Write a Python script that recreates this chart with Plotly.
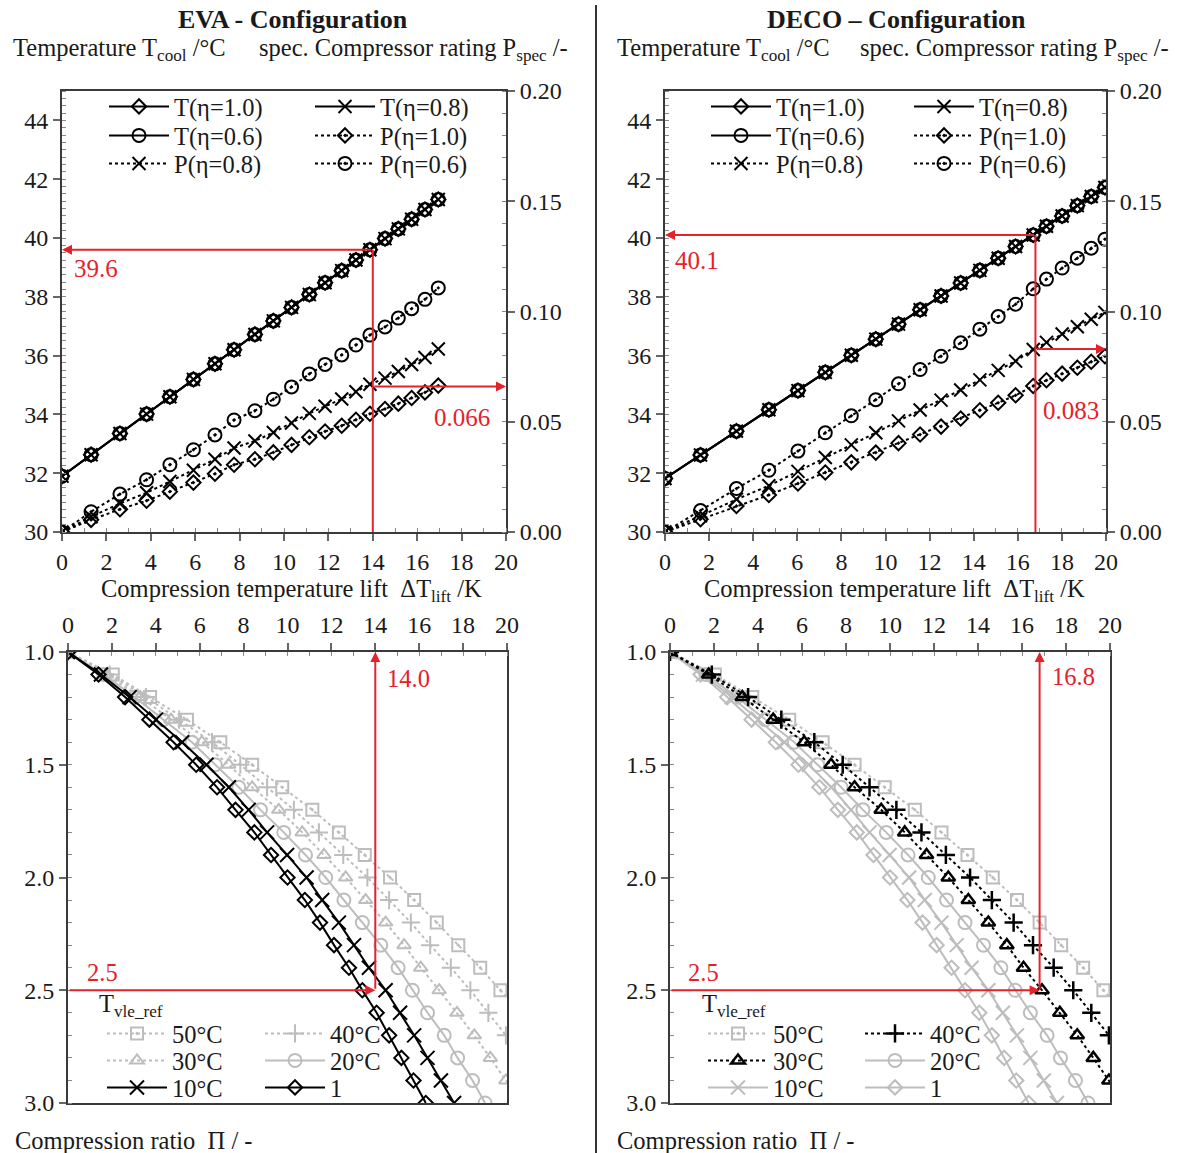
import plotly.graph_objects as go

W, H = 1177, 1153
def px(x): return x / W
def py(y): return 1 - y / H

FONT = "Liberation Serif"
RED = "#e3222b"
GRAY = "#bdbdbd"
BLACK = "#000000"
AXC = "#3a3a3a"
TXT = "#1a1a1a"

# ---------------- top charts: T_cool and P_spec vs temperature lift ----------------
eva_dT = [0, 1.31, 2.61, 3.81, 4.86, 5.92, 6.89, 7.75, 8.69, 9.52, 10.34, 11.14, 11.85, 12.60,
          13.24, 13.87, 14.55, 15.15, 15.75, 16.35, 16.95]
eva_T = [31.90, 32.63, 33.35, 34.01, 34.60, 35.19, 35.72, 36.20, 36.72, 37.18, 37.64, 38.08,
         38.48, 38.89, 39.25, 39.60, 39.98, 40.31, 40.64, 40.97, 41.31]
eva_P10 = [0, 0.0055, 0.0103, 0.0142, 0.0183, 0.0224, 0.0264, 0.0305, 0.0330, 0.0361, 0.0395,
           0.0430, 0.0456, 0.0482, 0.0509, 0.0536, 0.0558, 0.0582, 0.0608, 0.0633, 0.0664]
eva_P08 = [0, 0.0069, 0.0129, 0.0178, 0.0229, 0.0280, 0.0330, 0.0381, 0.0413, 0.0451, 0.0494,
           0.0538, 0.0570, 0.0603, 0.0636, 0.0670, 0.0698, 0.0728, 0.0760, 0.0791, 0.0830]
eva_P06 = [0, 0.0092, 0.0172, 0.0237, 0.0305, 0.0373, 0.0440, 0.0508, 0.0550, 0.0602, 0.0658,
           0.0717, 0.0760, 0.0803, 0.0848, 0.0893, 0.0930, 0.0970, 0.1013, 0.1055, 0.1107]

deco_dT = [0, 1.61, 3.24, 4.71, 6.03, 7.27, 8.45, 9.56, 10.59, 11.57, 12.52, 13.41, 14.28, 15.11,
           15.90, 16.70, 17.30, 18.01, 18.70, 19.33, 19.95]
deco_T = [31.82, 32.62, 33.43, 34.16, 34.81, 35.43, 36.01, 36.56, 37.07, 37.56, 38.03, 38.47,
          38.90, 39.31, 39.71, 40.10, 40.40, 40.75, 41.10, 41.41, 41.72]
deco_P10 = [0, 0.0058, 0.0118, 0.0168, 0.0220, 0.0270, 0.0316, 0.0360, 0.0403, 0.0442, 0.0478,
            0.0515, 0.0552, 0.0586, 0.0620, 0.0662, 0.0688, 0.0718, 0.0745, 0.0772, 0.0797]
deco_P08 = [0, 0.0073, 0.0148, 0.0210, 0.0275, 0.0338, 0.0395, 0.0450, 0.0504, 0.0553, 0.0598,
            0.0644, 0.0690, 0.0733, 0.0775, 0.0828, 0.0860, 0.0898, 0.0931, 0.0965, 0.0996]
deco_P06 = [0, 0.0097, 0.0197, 0.0280, 0.0367, 0.0450, 0.0527, 0.0600, 0.0672, 0.0737, 0.0797,
            0.0858, 0.0920, 0.0977, 0.1033, 0.1103, 0.1147, 0.1197, 0.1242, 0.1287, 0.1328]

# ---------------- bottom charts: compression ratio vs temperature lift ----------------
ratio = [1.0, 1.1, 1.2, 1.3, 1.4, 1.5, 1.6, 1.7, 1.8, 1.9, 2.0,
         2.1, 2.2, 2.3, 2.4, 2.5, 2.6, 2.7, 2.8, 2.9, 3.0]
lift_50 = [0, 2.04, 3.74, 5.42, 6.94, 8.39, 9.76, 11.13, 12.34, 13.52, 14.67,
           15.77, 16.80, 17.78, 18.78, 19.70, 20.60]
lift_40 = [0, 1.90, 3.55, 5.06, 6.56, 7.85, 9.07, 10.29, 11.43, 12.54, 13.64,
           14.63, 15.62, 16.50, 17.44, 18.33, 19.15, 19.95, 20.72]
lift_30 = [0, 1.76, 3.29, 4.69, 6.10, 7.32, 8.39, 9.60, 10.67, 11.66, 12.65,
           13.56, 14.47, 15.31, 16.07, 16.91, 17.72, 18.51, 19.24, 19.95, 20.65]
lift_20 = [0, 1.63, 3.04, 4.33, 5.65, 6.71, 7.78, 8.77, 9.83, 10.82, 11.74,
           12.57, 13.41, 14.25, 15.04, 15.69, 16.38, 17.14, 17.75, 18.43, 19.00]
lift_10 = [0, 1.50, 2.81, 4.01, 5.20, 6.31, 7.33, 8.23, 9.07, 9.98, 10.87,
           11.58, 12.34, 13.03, 13.71, 14.47, 15.13, 15.77, 16.38, 16.99, 17.59]
lift_1 = [0, 1.39, 2.60, 3.71, 4.81, 5.84, 6.79, 7.63, 8.49, 9.25, 10.00,
          10.79, 11.48, 12.12, 12.80, 13.41, 14.06, 14.63, 15.19, 15.74, 16.30]
curve_names = ["50°C", "40°C", "30°C", "20°C", "10°C", "1"]

# highlighted operating points
eva_lift, eva_Tcool, eva_Pspec, eva_ratio = 14.0, 39.6, 0.066, 2.5
deco_lift, deco_Tcool, deco_Pspec, deco_ratio = 16.8, 40.1, 0.083, 2.5

fig = go.Figure()

TL_X = [px(62), px(506)]
TR_X = [px(665), px(1106)]
TOP_Y = [py(532), py(91)]
BL_X = [px(68), px(507)]
BR_X = [px(670), px(1110)]
BOT_Y = [py(1103), py(652)]

legfont = dict(family=FONT, size=24.5, color=TXT)
legends = {}
_leg_count = [0]


def new_legend(x_line, y_center):
    """One legend per entry so the grid of entries can be placed exactly."""
    _leg_count[0] += 1
    n = _leg_count[0]
    key = "legend" if n == 1 else f"legend{n}"
    legends[key] = dict(x=px(x_line - 3), y=py(y_center - 24), xanchor="left", yanchor="top",
                        xref="paper", yref="paper", bgcolor="rgba(0,0,0,0)", borderwidth=0,
                        font=legfont, itemwidth=60, tracegroupgap=0, orientation="v")
    return key


def top_traces(xa, ya, ya2, dT, T, P10, P08, P06, col1, col2):
    rows = [108, 137, 165]
    specs = [
        ("T(η=1.0)", T, ya, "diamond-open", "solid", col1, rows[0], 11),
        ("T(η=0.8)", T, ya, "x-thin-open", "solid", col2, rows[0], 13),
        ("T(η=0.6)", T, ya, "circle-open", "solid", col1, rows[1], 13),
        ("P(η=1.0)", P10, ya2, "diamond-open-dot", "dot", col2, rows[1], 11),
        ("P(η=0.8)", P08, ya2, "x-thin-open", "dot", col1, rows[2], 13),
        ("P(η=0.6)", P06, ya2, "circle-open-dot", "dot", col2, rows[2], 13),
    ]
    for name, yv, yax, sym, dash, lx, ly, size in specs:
        fig.add_trace(go.Scatter(
            x=dT, y=yv, xaxis=xa, yaxis=yax, name=name, mode="lines+markers",
            line=dict(color=BLACK, width=2, dash=dash),
            marker=dict(symbol=sym, size=size, color=BLACK, line=dict(color=BLACK, width=2)),
            legend=new_legend(lx, ly), hoverinfo="skip"))


top_traces("x", "y", "y2", eva_dT, eva_T, eva_P10, eva_P08, eva_P06, 107, 313)
top_traces("x2", "y3", "y4", deco_dT, deco_T, deco_P10, deco_P08, deco_P06, 709, 912)


def bottom_traces(xa, ya, styles, col1, col2):
    lifts = [lift_50, lift_40, lift_30, lift_20, lift_10, lift_1]
    syms = ["square-open-dot", "cross-thin-open", "triangle-up-open", "circle-open", "x-thin-open", "diamond-open"]
    dashes = ["dot", "dot", "dot", "solid", "solid", "solid"]
    cols = [col1, col2, col1, col2, col1, col2]
    rows = [1035, 1035, 1062, 1062, 1089, 1089]
    sizes = [12, 13, 12, 13, 14, 11]
    order = sorted(range(6), key=lambda i: styles[i][1])
    for i in order:
        color, _ = styles[i]
        n = len(lifts[i])
        mw = 2.5 if (color == BLACK and syms[i] in ("triangle-up-open", "cross-thin-open")) else 2
        fig.add_trace(go.Scatter(
            x=lifts[i], y=ratio[:n], xaxis=xa, yaxis=ya, name=curve_names[i], mode="lines+markers",
            line=dict(color=color, width=2, dash=dashes[i]),
            marker=dict(symbol=syms[i], size=sizes[i], color=color, line=dict(color=color, width=mw)),
            legend=new_legend(cols[i], rows[i]), hoverinfo="skip"))


eva_styles = [(GRAY, 0), (GRAY, 0), (GRAY, 0), (GRAY, 0), (BLACK, 1), (BLACK, 1)]
deco_styles = [(GRAY, 0), (BLACK, 1), (BLACK, 1), (GRAY, 0), (GRAY, 0), (GRAY, 0)]
bottom_traces("x3", "y5", eva_styles, 105, 263)
bottom_traces("x4", "y6", deco_styles, 706, 863)

tickfont = dict(family=FONT, size=24, color=TXT)


def xax(domain, anchor, side="bottom"):
    return dict(domain=domain, anchor=anchor, range=[0, 20], dtick=2, side=side,
                ticks="outside", ticklen=7, tickwidth=1.5, tickcolor="#666",
                minor=dict(dtick=1, ticks="inside", ticklen=4, tickcolor="#888", tickwidth=1),
                showline=True, linecolor=AXC, linewidth=2, mirror=True, automargin=False,
                showgrid=False, zeroline=False, tickfont=tickfont)


def yax_T(domain, anchor):
    return dict(domain=domain, anchor=anchor, range=[30, 45], tickvals=list(range(30, 45, 2)),
                ticks="outside", ticklen=7, tickwidth=1.5, tickcolor="#666",
                minor=dict(dtick=0.25, ticks="inside", ticklen=4, tickcolor="#888", tickwidth=1),
                showline=True, linecolor=AXC, linewidth=2, showgrid=False, zeroline=False,
                automargin=False, tickfont=tickfont)


def yax_P(overlay, anchor):
    return dict(overlaying=overlay, anchor=anchor, side="right", range=[0, 0.2], dtick=0.05,
                tickformat=".2f", ticks="outside", ticklen=7, tickwidth=1.5, tickcolor="#666",
                minor=dict(dtick=0.01, ticks="inside", ticklen=4, tickcolor="#888", tickwidth=1),
                showline=True, linecolor=AXC, linewidth=2, showgrid=False, zeroline=False,
                automargin=False, tickfont=tickfont)


def yax_R(domain, anchor):
    return dict(domain=domain, anchor=anchor, range=[3.0, 1.0], dtick=0.5, tickformat=".1f",
                ticks="outside", ticklen=7, tickwidth=1.5, tickcolor="#666",
                minor=dict(dtick=0.1, ticks="inside", ticklen=4, tickcolor="#888", tickwidth=1),
                showline=True, linecolor=AXC, linewidth=2, mirror=True, automargin=False,
                showgrid=False, zeroline=False, tickfont=tickfont)


fig.update_layout(
    width=W, height=H, margin=dict(l=0, r=0, t=0, b=0, autoexpand=False),
    paper_bgcolor="white", plot_bgcolor="white",
    font=dict(family=FONT, size=24, color=TXT),
    xaxis=xax(TL_X, "y"), yaxis=yax_T(TOP_Y, "x"), yaxis2=yax_P("y", "x"),
    xaxis2=xax(TR_X, "y3"), yaxis3=yax_T(TOP_Y, "x2"), yaxis4=yax_P("y3", "x2"),
    xaxis3=xax(BL_X, "y5", side="top"), yaxis5=yax_R(BOT_Y, "x3"),
    xaxis4=xax(BR_X, "y6", side="top"), yaxis6=yax_R(BOT_Y, "x4"),
    showlegend=True,
    **legends,
)

anns = []
shapes = []


def txt(x, y, text, size=24.5, xanchor="left", color=TXT):
    anns.append(dict(x=px(x), y=py(y), xref="paper", yref="paper", text=text, showarrow=False,
                     xanchor=xanchor, yanchor="middle", font=dict(family=FONT, size=size, color=color)))


# titles & axis titles
txt(293, 20, "<b>EVA - Configuration</b>", size=26, xanchor="center")
txt(896, 20, "<b>DECO – Configuration</b>", size=26, xanchor="center")
for x0, x1 in [(11, 570), (615, 1171)]:
    txt(x0, 50, "Temperature T<sub>cool</sub> /°C", xanchor="left")
    txt(x1, 50, "spec. Compressor rating P<sub>spec</sub> /-", xanchor="right")
for xc in [291, 894]:
    txt(xc, 590, "Compression temperature lift  ΔT<sub>lift</sub> /K", xanchor="center")
for x0 in [13, 615]:
    txt(x0, 1140, "Compression ratio  Π / -", xanchor="left")
for x0 in [97, 700]:
    txt(x0, 1005, "T<sub>vle_ref</sub>", xanchor="left")

# divider
shapes.append(dict(type="line", xref="paper", yref="paper", x0=px(596), x1=px(596), y0=0, y1=py(5),
                   line=dict(color="#333", width=2)))


def arrow(x, y, ax, ay, xa, ya):
    anns.append(dict(x=x, y=y, ax=ax, ay=ay, xref=xa, yref=ya, axref=xa, ayref=ya, text="",
                     showarrow=True, arrowhead=2, arrowsize=1, arrowwidth=2, arrowcolor=RED, standoff=0))


def red_top(xa, ya, ya2, lift, Tc, Ps, lab_T, lab_P):
    shapes.append(dict(type="line", xref=xa, yref=ya, x0=lift, x1=lift, y0=30, y1=Tc,
                       line=dict(color=RED, width=2)))
    arrow(0, Tc, lift, Tc, xa, ya)
    arrow(20, Ps, lift, Ps, xa, ya2)
    txt(lab_T[0], lab_T[1], f"{Tc:.1f}", size=25, xanchor="center", color=RED)
    txt(lab_P[0], lab_P[1], f"{Ps:.3f}", size=25, xanchor="center", color=RED)


red_top("x", "y", "y2", eva_lift, eva_Tcool, eva_Pspec, (96, 268), (462, 417))
red_top("x2", "y3", "y4", deco_lift, deco_Tcool, deco_Pspec, (697, 260), (1071, 410))


def red_bot(xa, ya, lift, r, lab_L, lab_R):
    arrow(lift, 1.0, lift, r, xa, ya)
    arrow(lift, r, 0, r, xa, ya)
    txt(lab_L[0], lab_L[1], f"{lift:.1f}", size=24.5, xanchor="center", color=RED)
    txt(lab_R[0], lab_R[1], f"{r:.1f}", size=24.5, xanchor="center", color=RED)


red_bot("x3", "y5", eva_lift, eva_ratio, (408, 678), (102, 972))
red_bot("x4", "y6", deco_lift, deco_ratio, (1073, 676), (703, 972))

fig.update_layout(annotations=anns, shapes=shapes)
fig.write_html("out.html")
